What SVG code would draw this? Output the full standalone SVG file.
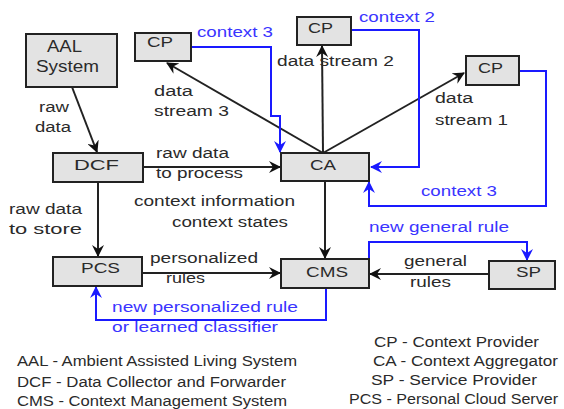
<svg xmlns="http://www.w3.org/2000/svg" width="564" height="409" viewBox="0 0 564 409">
<defs>
<style>
text{font-family:"Liberation Sans",Arial,sans-serif;font-size:14px;fill:#2a2a2a}
.b{fill:#3a34ff}
.box{fill:#e3e3e3;stroke:#222;stroke-width:2}
.bl{fill:none;stroke:#222;stroke-width:2}
.bu{fill:none;stroke:#1a1aff;stroke-width:2}
.big{font-size:16px}
.nl{font-size:15px}
</style>
<marker id="ak" viewBox="0 0 12 12" refX="11" refY="6" markerWidth="12" markerHeight="12" markerUnits="userSpaceOnUse" orient="auto">
<path d="M0,0 L12,6 L0,12 L4,6 z" fill="#111"/>
</marker>
<marker id="au" viewBox="0 0 12 12" refX="11" refY="6" markerWidth="12" markerHeight="12" markerUnits="userSpaceOnUse" orient="auto">
<path d="M0,0 L12,6 L0,12 L4,6 z" fill="#1a1aff"/>
</marker>
</defs>
<rect width="564" height="409" fill="#fff"/>

<g id="connectors">
<line class="bl" x1="72" y1="87" x2="97" y2="152" marker-end="url(#ak)"/>
<line class="bl" x1="143" y1="167" x2="280" y2="167" marker-end="url(#ak)"/>
<line class="bl" x1="98" y1="182" x2="98" y2="256" marker-end="url(#ak)"/>
<line class="bl" x1="142" y1="273" x2="280" y2="273" marker-end="url(#ak)"/>
<line class="bl" x1="325" y1="181" x2="325" y2="258" marker-end="url(#ak)"/>
<line class="bl" x1="489" y1="274" x2="370" y2="274" marker-end="url(#ak)"/>
<line class="bl" x1="323" y1="153" x2="322" y2="46" marker-end="url(#ak)"/>
<line class="bl" x1="323" y1="153" x2="167" y2="63" marker-end="url(#ak)"/>
<line class="bl" x1="323" y1="153" x2="464" y2="73" marker-end="url(#ak)"/>
<polyline class="bu" points="191,47 271,47 271,116 280,116 280,152" marker-end="url(#au)"/>
<polyline class="bu" points="351,30 419,30 419,167 371,167" marker-end="url(#au)"/>
<polyline class="bu" points="519,71 546,71 546,206 369,206 369,182" marker-end="url(#au)"/>
<polyline class="bu" points="369,259 369,242 527,242 527,260" marker-end="url(#au)"/>
<polyline class="bu" points="326,288 326,320 96,320 96,287" marker-end="url(#au)"/>
</g>

<g id="aal">
<rect class="box" x="26" y="34" width="91" height="53"/>
<text class="big" x="47" y="52" textLength="35" lengthAdjust="spacingAndGlyphs">AAL</text>
<text class="big" x="36" y="72" textLength="63" lengthAdjust="spacingAndGlyphs">System</text>
</g>
<g id="cp1">
<rect class="box" x="135" y="33" width="56" height="28"/>
<text x="147" y="47" textLength="26" lengthAdjust="spacingAndGlyphs">CP</text>
</g>
<g id="cp2">
<rect class="box" x="297" y="17" width="54" height="28"/>
<text x="308" y="33" textLength="25" lengthAdjust="spacingAndGlyphs">CP</text>
</g>
<g id="cp3">
<rect class="box" x="466" y="56" width="53" height="29"/>
<text x="478" y="73" textLength="25" lengthAdjust="spacingAndGlyphs">CP</text>
</g>
<g id="dcf">
<rect class="box" x="53" y="153" width="90" height="29"/>
<text class="nl" x="74" y="170" textLength="45" lengthAdjust="spacingAndGlyphs">DCF</text>
</g>
<g id="ca">
<rect class="box" x="281" y="153" width="88" height="28"/>
<text x="310" y="170" textLength="26" lengthAdjust="spacingAndGlyphs">CA</text>
</g>
<g id="pcs">
<rect class="box" x="53" y="257" width="89" height="29"/>
<text class="nl" x="81" y="273" textLength="39" lengthAdjust="spacingAndGlyphs">PCS</text>
</g>
<g id="cms">
<rect class="box" x="281" y="259" width="88" height="29"/>
<text class="nl" x="306" y="277" textLength="42" lengthAdjust="spacingAndGlyphs">CMS</text>
</g>
<g id="sp">
<rect class="box" x="489" y="261" width="66" height="28"/>
<text class="nl" x="516" y="277" textLength="25" lengthAdjust="spacingAndGlyphs">SP</text>
</g>

<g id="labels">
<text class="b" x="197" y="37" textLength="76" lengthAdjust="spacingAndGlyphs">context 3</text>
<text class="b" x="359" y="22" textLength="76" lengthAdjust="spacingAndGlyphs">context 2</text>
<text x="277" y="66" textLength="117" lengthAdjust="spacingAndGlyphs">data stream 2</text>
<text x="435" y="103" textLength="38" lengthAdjust="spacingAndGlyphs">data</text>
<text x="435" y="125" textLength="73" lengthAdjust="spacingAndGlyphs">stream 1</text>
<text x="154" y="96" textLength="39" lengthAdjust="spacingAndGlyphs">data</text>
<text x="154" y="116" textLength="75" lengthAdjust="spacingAndGlyphs">stream 3</text>
<text x="39" y="112" textLength="30" lengthAdjust="spacingAndGlyphs">raw</text>
<text x="35" y="132" textLength="36" lengthAdjust="spacingAndGlyphs">data</text>
<text x="156" y="158" textLength="73" lengthAdjust="spacingAndGlyphs">raw data</text>
<text x="156" y="178" textLength="87" lengthAdjust="spacingAndGlyphs">to process</text>
<text x="134" y="206" textLength="161" lengthAdjust="spacingAndGlyphs">context information</text>
<text x="172" y="227" textLength="116" lengthAdjust="spacingAndGlyphs">context states</text>
<text x="9" y="214" textLength="73" lengthAdjust="spacingAndGlyphs">raw data</text>
<text x="9" y="234" textLength="73" lengthAdjust="spacingAndGlyphs">to store</text>
<text x="150" y="263" textLength="108" lengthAdjust="spacingAndGlyphs">personalized</text>
<text x="166" y="283" textLength="39" lengthAdjust="spacingAndGlyphs">rules</text>
<text class="b" x="369" y="232" textLength="140" lengthAdjust="spacingAndGlyphs">new general rule</text>
<text x="404" y="266" textLength="63" lengthAdjust="spacingAndGlyphs">general</text>
<text x="410" y="287" textLength="41" lengthAdjust="spacingAndGlyphs">rules</text>
<text class="b" x="421" y="196" textLength="76" lengthAdjust="spacingAndGlyphs">context 3</text>
<text class="b" x="112" y="312" textLength="186" lengthAdjust="spacingAndGlyphs">new personalized rule</text>
<text class="b" x="112" y="332" textLength="166" lengthAdjust="spacingAndGlyphs">or learned classifier</text>
</g>

<g id="legend">
<text x="17" y="366" textLength="280" lengthAdjust="spacingAndGlyphs">AAL - Ambient Assisted Living System</text>
<text x="17" y="387" textLength="269" lengthAdjust="spacingAndGlyphs">DCF - Data Collector and Forwarder</text>
<text x="17" y="406" textLength="270" lengthAdjust="spacingAndGlyphs">CMS - Context Management System</text>
<text x="374" y="347" textLength="165" lengthAdjust="spacingAndGlyphs">CP - Context Provider</text>
<text x="373" y="366" textLength="185" lengthAdjust="spacingAndGlyphs">CA - Context Aggregator</text>
<text x="371" y="385" textLength="166" lengthAdjust="spacingAndGlyphs">SP - Service Provider</text>
<text x="349" y="404" textLength="209" lengthAdjust="spacingAndGlyphs">PCS - Personal Cloud Server</text>
</g>
</svg>
